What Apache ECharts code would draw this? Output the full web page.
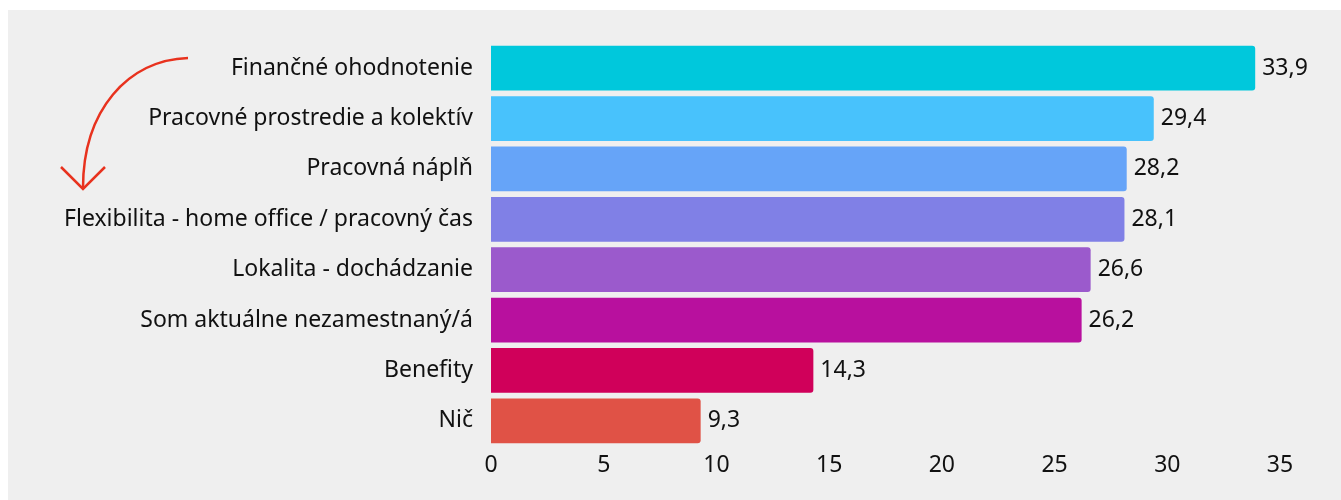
<!DOCTYPE html>
<html><head><meta charset="utf-8">
<script src="https://cdn.jsdelivr.net/npm/echarts@6/dist/echarts.min.js"></script>
<style>html,body{margin:0;padding:0;background:#fff}#c{width:1341px;height:500px}</style>
</head><body><div id="c"></div>
<script>
const categories = ["Finančné ohodnotenie","Pracovné prostredie a kolektív","Pracovná náplň","Flexibilita - home office / pracovný čas","Lokalita - dochádzanie","Som aktuálne nezamestnaný/á","Benefity","Nič"];
const values = [33.9, 29.4, 28.2, 28.1, 26.6, 26.2, 14.3, 9.3];
const colors = ["#00c8dc","#48c2fc","#66a4f8","#8080e6","#9b5acc","#b8109e","#d0005a","#e05246"];
const xTicks = [0,5,10,15,20,25,30,35];

const chart = echarts.init(document.getElementById('c'));
chart.setOption({
  backgroundColor: '#ffffff',
  animation: false,
  graphic: [
    {type:'rect', z:-10, shape:{x:8,y:10,width:1340,height:500}, style:{fill:'#efefef'}},
    {type:'bezierCurve', z:10, shape:{x1:188,y1:58,cpx1:128,cpy1:60,cpx2:83,cpy2:110,x2:83,y2:188}, style:{fill:null, stroke:'#e8321e', lineWidth:2.5}},
    {type:'polyline', z:10, shape:{points:[[61,167],[83,189],[105,167]]}, style:{fill:null, stroke:'#e8321e', lineWidth:2.5}}
  ],
  grid: {left:491, right:61, top:43, bottom:54, containLabel:false},
  xAxis: {
    type:'value', min:0, max:35, interval:5,
    axisLine:{show:false}, axisTick:{show:false}, splitLine:{show:false},
    axisLabel:{color:'#111', fontFamily:'Noto Sans', fontSize:23, margin:8,
      formatter: v => xTicks.includes(v) ? String(v) : ''}
  },
  yAxis: {
    type:'category', inverse:true, data:categories,
    axisLine:{show:false}, axisTick:{show:false}, splitLine:{show:false},
    axisLabel:{color:'#111', fontFamily:'Noto Sans', fontSize:23, margin:18}
  },
  series: [{
    type:'bar', barWidth:'89%',
    data: values.map((v,i)=>({value:v, itemStyle:{color:colors[i], borderRadius:[0,3,3,0]}})),
    label:{show:true, position:'right', distance:7, color:'#111', fontFamily:'Noto Sans', fontSize:23,
      formatter: p => p.value.toFixed(1).replace('.',',')}
  }]
});
</script></body></html>
